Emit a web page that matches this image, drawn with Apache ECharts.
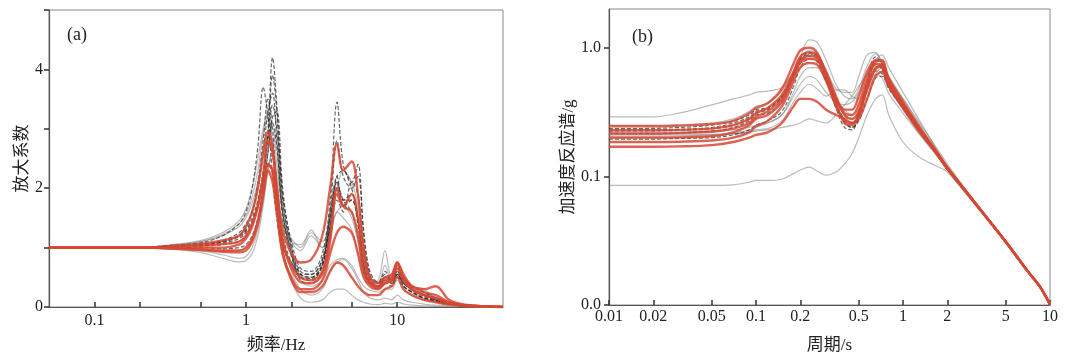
<!DOCTYPE html>
<html><head><meta charset="utf-8">
<script src="https://cdn.jsdelivr.net/npm/echarts@6/dist/echarts.min.js"></script>
<style>html,body{margin:0;padding:0;background:#fff}#c{width:1069px;height:359px}</style>
</head><body><div id="c"></div>
<script>
// ---------- Panel (a): amplification factor vs frequency ----------
const FREQ = [0.05,0.1,0.2,0.3,0.5,0.7,0.9,1.0,1.1,1.2,1.3,1.4,1.5,1.6,1.75,2.0,2.3,2.7,3.2,3.6,4.0,4.4,5.0,5.5,6.0,6.6,7.5,8.3,9.2,10,11,12.5,15,18,22,28,50];
const ampG1 = [1,1,1,1.02,1.05,1.1,1.2,1.3,1.5,1.8,2.3,3.0,4.2,3.4,1.9,1.1,0.65,0.6,0.9,1.8,3.45,2.4,2.0,1.5,0.8,0.45,0.35,0.5,0.4,0.55,0.35,0.25,0.15,0.1,0.05,0.02,0];
const ampG2 = [1,1,1,1.03,1.08,1.2,1.4,1.6,2.0,2.7,3.7,3.2,2.2,1.5,1.0,0.75,0.55,0.55,0.8,1.4,2.1,1.8,1.6,1.2,0.6,0.4,0.35,0.45,0.4,0.5,0.35,0.25,0.15,0.1,0.05,0.02,0];
const ampG3 = [1,1,1,1.04,1.12,1.25,1.45,1.65,2.0,2.5,3.0,3.3,2.6,1.9,1.4,1.1,1.05,1.3,1.0,1.2,1.6,1.5,1.3,0.9,0.5,0.4,0.45,0.95,0.5,0.6,0.4,0.3,0.2,0.12,0.06,0.03,0];
const ampG4 = [1,1,1,1.01,1.03,1.05,1.1,1.2,1.4,1.7,2.2,2.8,3.4,3.0,1.6,0.9,0.5,0.45,0.7,1.4,2.2,1.8,1.9,1.5,0.7,0.4,0.35,0.45,0.4,0.55,0.4,0.3,0.2,0.12,0.05,0.02,0];
const ampG5 = [1,1,1,1.0,1.0,0.98,1.0,1.05,1.2,1.5,2.0,2.6,3.1,2.7,1.5,0.85,0.45,0.4,0.6,1.3,2.0,1.7,1.8,1.4,0.7,0.4,0.3,0.4,0.35,0.5,0.35,0.25,0.15,0.1,0.05,0.02,0];
const ampG6 = [1,1,1,0.98,0.92,0.82,0.76,0.78,0.9,1.2,1.7,2.3,2.6,2.2,1.2,0.6,0.3,0.2,0.3,0.6,0.75,0.8,0.65,0.45,0.25,0.15,0.12,0.15,0.12,0.2,0.12,0.08,0.05,0.03,0.02,0.01,0];
const ampG7 = [1,1,1,0.99,0.95,0.88,0.82,0.85,1.0,1.3,1.8,2.4,2.5,2.0,1.0,0.45,0.15,0.08,0.12,0.25,0.3,0.3,0.2,0.12,0.08,0.05,0.04,0.06,0.05,0.08,0.05,0.03,0.02,0.01,0,0,0];
const ampG8 = [1,1,1,1.03,1.1,1.22,1.4,1.55,1.85,2.3,2.9,3.2,2.8,2.0,1.4,1.15,1.0,1.25,1.1,1.5,2.0,2.3,2.1,1.7,1.0,0.5,0.4,0.5,0.45,0.6,0.5,0.35,0.3,0.15,0.08,0.04,0];
const ampG9 = [1,1,1,1.01,1.04,1.08,1.15,1.25,1.4,1.7,2.1,2.6,3.2,3.3,2.0,1.0,0.55,0.5,0.7,1.3,1.8,1.6,2.1,1.9,1.0,0.5,0.4,0.6,0.45,0.65,0.45,0.3,0.2,0.12,0.06,0.02,0];
const ampG10 = [1,1,1,1.0,0.98,0.95,0.95,1.0,1.15,1.4,1.8,2.3,2.7,2.9,1.8,0.9,0.45,0.35,0.45,0.7,0.8,0.82,0.7,0.5,0.35,0.28,0.25,0.3,0.3,0.45,0.3,0.2,0.12,0.08,0.04,0.02,0];
const ampG11 = [1,1,1,1.02,1.06,1.12,1.25,1.4,1.6,2.0,2.6,3.3,3.6,2.8,1.6,0.9,0.55,0.5,0.75,1.6,2.8,2.2,2.0,2.2,1.2,0.55,0.4,0.5,0.45,0.6,0.45,0.35,0.25,0.15,0.08,0.03,0];
const ampG12 = [1,1,1,1.01,1.04,1.1,1.2,1.35,1.6,2.1,2.8,3.5,3.0,2.0,1.2,0.75,0.5,0.48,0.7,1.5,2.1,1.8,1.8,1.4,0.7,0.42,0.35,0.45,0.4,0.55,0.4,0.28,0.18,0.1,0.05,0.02,0];
const ampG13 = [1,1,1,1.03,1.1,1.2,1.35,1.5,1.75,2.1,2.5,2.9,3.0,2.4,1.6,1.1,0.95,1.2,1.0,1.3,1.6,1.7,1.5,1.1,0.6,0.4,0.4,0.7,0.45,0.55,0.4,0.3,0.22,0.12,0.06,0.03,0];
const ampG14 = [1,1,1,1.02,1.05,1.1,1.18,1.28,1.45,1.75,2.2,2.9,3.9,3.3,1.8,1.0,0.6,0.55,0.8,1.6,2.2,2.3,2.1,2.4,1.3,0.6,0.42,0.55,0.45,0.6,0.45,0.35,0.25,0.15,0.08,0.03,0];
const ampR1 = [1,1,1,1.02,1.06,1.12,1.2,1.35,1.6,2.0,2.6,2.95,2.7,2.0,1.3,0.9,0.75,0.8,1.2,2.0,2.75,2.3,2.45,1.9,1.0,0.5,0.4,0.5,0.55,0.75,0.5,0.35,0.3,0.35,0.12,0.04,0];
const ampR2 = [1,1,1,1.01,1.03,1.06,1.1,1.2,1.4,1.7,2.1,2.4,2.3,1.8,1.1,0.7,0.5,0.45,0.6,1.2,1.9,1.7,1.9,1.5,0.8,0.45,0.35,0.45,0.5,0.75,0.55,0.35,0.25,0.2,0.08,0.03,0];
const ampR3 = [1,1,1,1.0,1.0,1.0,1.05,1.15,1.35,1.7,2.2,2.8,2.6,2.0,1.1,0.65,0.42,0.4,0.55,1.1,2.0,1.7,1.6,1.2,0.6,0.4,0.32,0.4,0.45,0.7,0.5,0.3,0.2,0.15,0.06,0.02,0];
const ampR4 = [1,1,1,0.99,0.97,0.95,0.95,1.0,1.15,1.45,1.9,2.3,2.1,1.6,0.9,0.5,0.3,0.3,0.45,0.9,1.25,1.35,1.25,0.9,0.5,0.35,0.3,0.4,0.45,0.65,0.45,0.3,0.2,0.15,0.06,0.02,0];
const ampR5 = [1,1,1,0.99,0.96,0.93,0.92,0.95,1.1,1.4,1.9,2.4,2.3,1.7,0.9,0.45,0.25,0.25,0.35,0.6,0.75,0.7,0.5,0.35,0.25,0.2,0.2,0.3,0.35,0.5,0.3,0.2,0.12,0.08,0.04,0.02,0];
const ampDark = [ampG1, ampG2, ampG4, ampG5, ampG9, ampG11, ampG12, ampG14];
const ampLight = [ampG3, ampG6, ampG7, ampG8, ampG10, ampG13];
const ampRed = [ampR1, ampR2, ampR3, ampR4, ampR5];
const FREQ_TICKS = [0.1,0.2,0.5,1,2,5,10];
const FREQ_LABELS = [0.1,1,10];

// ---------- Panel (b): acceleration response spectrum vs period ----------
const PERIOD = [0.01,0.02,0.03,0.05,0.07,0.09,0.1,0.12,0.15,0.18,0.2,0.23,0.26,0.3,0.35,0.4,0.45,0.5,0.57,0.65,0.72,0.8,1.0,1.3,1.7,2.0,3.0,5.0,7.0,8.5,10];
const saG1 = [0.29,0.29,0.31,0.36,0.4,0.43,0.45,0.46,0.49,0.65,0.85,1.15,1.1,0.8,0.52,0.42,0.4,0.48,0.72,0.9,0.78,0.58,0.4,0.26,0.165,0.125,0.066,0.031,0.0185,0.014,0.0101];
const saG2 = [0.235,0.236,0.24,0.25,0.27,0.3,0.33,0.34,0.42,0.62,0.8,0.88,0.86,0.62,0.4,0.3,0.28,0.32,0.52,0.74,0.68,0.5,0.34,0.225,0.152,0.117,0.065,0.031,0.0185,0.014,0.0101];
const saG3 = [0.215,0.215,0.218,0.225,0.24,0.27,0.3,0.31,0.38,0.58,0.76,0.86,0.82,0.56,0.36,0.26,0.24,0.28,0.46,0.66,0.63,0.5,0.35,0.23,0.152,0.118,0.065,0.031,0.0185,0.014,0.0101];
const saG4 = [0.195,0.195,0.197,0.2,0.21,0.23,0.25,0.27,0.32,0.5,0.7,0.82,0.78,0.55,0.36,0.27,0.24,0.27,0.4,0.58,0.6,0.48,0.34,0.22,0.15,0.115,0.064,0.031,0.0185,0.014,0.0101];
const saG5 = [0.205,0.205,0.206,0.21,0.215,0.22,0.23,0.235,0.27,0.38,0.45,0.52,0.48,0.42,0.47,0.47,0.42,0.4,0.48,0.62,0.58,0.44,0.31,0.21,0.145,0.113,0.064,0.031,0.0185,0.014,0.0101];
const saG6 = [0.25,0.25,0.252,0.26,0.28,0.32,0.35,0.37,0.46,0.66,0.84,0.95,0.9,0.66,0.48,0.45,0.45,0.6,0.88,0.92,0.72,0.5,0.33,0.215,0.145,0.112,0.064,0.031,0.0185,0.014,0.0101];
const saG7 = [0.085,0.085,0.085,0.085,0.086,0.09,0.093,0.093,0.095,0.105,0.112,0.118,0.11,0.102,0.108,0.125,0.15,0.2,0.3,0.4,0.43,0.3,0.185,0.14,0.12,0.108,0.063,0.031,0.0185,0.014,0.0101];
const saG8 = [0.22,0.22,0.221,0.225,0.23,0.24,0.25,0.26,0.3,0.42,0.52,0.6,0.56,0.45,0.38,0.36,0.38,0.45,0.62,0.8,0.88,0.7,0.45,0.27,0.16,0.12,0.066,0.031,0.0185,0.014,0.0101];
const saG9 = [0.225,0.226,0.228,0.235,0.25,0.28,0.31,0.33,0.41,0.62,0.8,0.9,0.86,0.58,0.34,0.24,0.23,0.3,0.55,0.8,0.7,0.5,0.34,0.225,0.15,0.116,0.065,0.031,0.0185,0.014,0.0101];
const saG10 = [0.21,0.21,0.21,0.212,0.215,0.22,0.225,0.23,0.24,0.25,0.26,0.28,0.27,0.26,0.3,0.36,0.42,0.5,0.62,0.72,0.7,0.52,0.35,0.23,0.15,0.115,0.064,0.031,0.0185,0.014,0.0101];
const saG11 = [0.23,0.23,0.232,0.24,0.26,0.29,0.32,0.34,0.42,0.64,0.83,0.92,0.88,0.6,0.37,0.28,0.26,0.3,0.55,0.85,0.75,0.52,0.35,0.23,0.152,0.117,0.065,0.031,0.0185,0.014,0.0101];
const saG12 = [0.2,0.2,0.2,0.205,0.215,0.23,0.24,0.26,0.3,0.45,0.6,0.7,0.7,0.55,0.4,0.33,0.3,0.33,0.45,0.62,0.7,0.6,0.4,0.25,0.155,0.118,0.065,0.031,0.0185,0.014,0.0101];
const saR1 = [0.245,0.245,0.248,0.255,0.27,0.31,0.34,0.37,0.48,0.75,0.95,1.0,0.92,0.62,0.4,0.33,0.33,0.42,0.65,0.8,0.78,0.58,0.38,0.24,0.155,0.118,0.065,0.031,0.0185,0.014,0.0101];
const saR2 = [0.228,0.228,0.23,0.235,0.25,0.28,0.31,0.34,0.43,0.65,0.85,0.92,0.88,0.65,0.42,0.3,0.28,0.32,0.52,0.75,0.72,0.52,0.35,0.23,0.15,0.115,0.065,0.031,0.0185,0.014,0.0101];
const saR3 = [0.17,0.17,0.171,0.175,0.185,0.2,0.21,0.22,0.26,0.35,0.4,0.4,0.38,0.33,0.3,0.28,0.26,0.28,0.4,0.6,0.65,0.5,0.34,0.22,0.15,0.115,0.064,0.031,0.0185,0.014,0.0101];
const saR4 = [0.2,0.2,0.201,0.205,0.22,0.25,0.28,0.3,0.38,0.6,0.76,0.82,0.8,0.6,0.37,0.26,0.25,0.3,0.5,0.7,0.72,0.55,0.36,0.23,0.15,0.115,0.065,0.031,0.0185,0.014,0.0101];
const saR5 = [0.215,0.215,0.217,0.222,0.235,0.26,0.29,0.32,0.4,0.62,0.8,0.86,0.84,0.62,0.4,0.31,0.3,0.36,0.58,0.78,0.8,0.56,0.37,0.235,0.152,0.117,0.065,0.031,0.0185,0.014,0.0101];
const saR6 = [0.185,0.185,0.186,0.19,0.2,0.22,0.245,0.27,0.35,0.55,0.7,0.76,0.74,0.55,0.35,0.27,0.26,0.3,0.48,0.68,0.72,0.55,0.36,0.23,0.15,0.115,0.065,0.031,0.0185,0.014,0.0101];
const saDark = [saG2, saG3, saG4, saG9, saG11];
const saLight = [saG1, saG5, saG6, saG7, saG8, saG10, saG12];
const saRed = [saR1, saR2, saR3, saR4, saR5, saR6];
const PERIOD_TICKS = [0.01,0.02,0.05,0.1,0.2,0.5,1,2,5,10];
const SA_TICKS = [0.01,0.1,1];

// ---------- build ----------
const FONT = '"Liberation Serif", "Noto Sans CJK SC", serif';
const TXT = '#222';
function pairs(xs, ys){ return xs.map((x,i)=>[x, ys[i]]); }
function mk(xs, ys, idx, style){
  return Object.assign({type:'line', xAxisIndex:idx, yAxisIndex:idx, data:pairs(xs,ys),
    showSymbol:false, smooth:0.35, silent:true, animation:false}, style);
}
const sDark = {lineStyle:{color:'rgba(40,40,40,0.7)', width:1.2, type:[4,2]}};
const sLight = {lineStyle:{color:'rgba(120,120,120,0.5)', width:1.2}};
const sRed = {lineStyle:{color:'rgba(214,72,50,0.85)', width:2.4}};
const series = [];
ampLight.forEach(a=>series.push(mk(FREQ,a,0,sLight)));
ampDark.forEach(a=>series.push(mk(FREQ,a,0,sDark)));
ampRed.forEach(a=>series.push(mk(FREQ,a,0,sRed)));
saLight.forEach(a=>series.push(mk(PERIOD,a,1,sLight)));
saDark.forEach(a=>series.push(mk(PERIOD,a,1,sDark)));
saRed.forEach(a=>series.push(mk(PERIOD,a,1,sRed)));

const axLine = {show:true, lineStyle:{color:'#555', width:1.2}};
const labelStyle = {color:TXT, fontFamily:FONT, fontSize:16};
const nameStyle = {color:TXT, fontFamily:FONT, fontSize:17};

const option = {
  backgroundColor:'#fff',
  animation:false,
  title:[
    {text:'(a)', left:62, top:21, textStyle:{color:TXT, fontFamily:FONT, fontSize:18, fontWeight:'normal'}},
    {text:'(b)', left:627, top:23, textStyle:{color:TXT, fontFamily:FONT, fontSize:18, fontWeight:'normal'}}
  ],
  grid:[
    {left:49, top:10, width:454, height:299, show:true, borderColor:'#888', borderWidth:1},
    {left:609, top:9, width:441, height:298, show:true, borderColor:'#888', borderWidth:1}
  ],
  xAxis:[
    {type:'log', logBase:10, gridIndex:0, min:0.05, max:50,
     name:'频率/Hz', nameLocation:'middle', nameGap:30, nameTextStyle:nameStyle,
     axisLine:axLine, splitLine:{show:false},
     axisTick:{show:true, inside:true, length:5, lineStyle:{color:'#333', width:1.5}, customValues:FREQ_TICKS},
     axisLabel:Object.assign({margin:6, customValues:FREQ_LABELS, formatter:v=>String(v)}, labelStyle)},
    {type:'log', logBase:10, gridIndex:1, min:0.01, max:10,
     name:'周期/s', nameLocation:'middle', nameGap:32, nameTextStyle:nameStyle,
     axisLine:axLine, splitLine:{show:false},
     axisTick:{show:true, inside:true, length:5, lineStyle:{color:'#333', width:1.5}, customValues:PERIOD_TICKS},
     axisLabel:Object.assign({margin:4, customValues:PERIOD_TICKS, formatter:v=>String(v)}, labelStyle)}
  ],
  yAxis:[
    {type:'value', gridIndex:0, min:0, max:5, interval:1,
     name:'放大系数', nameLocation:'middle', nameGap:17, nameTextStyle:nameStyle,
     axisLine:axLine, splitLine:{show:false},
     axisTick:{show:true, inside:false, length:5, lineStyle:{color:'#333', width:1.5}},
     axisLabel:Object.assign({margin:6, formatter:v=>(v%2===0 && v<5)?String(v):''}, labelStyle)},
    {type:'log', logBase:10, gridIndex:1, min:0.01, max:2,
     name:'加速度反应谱/g', nameLocation:'middle', nameGap:31, nameTextStyle:nameStyle,
     axisLine:axLine, splitLine:{show:false},
     axisTick:{show:true, inside:false, length:5, lineStyle:{color:'#333', width:1.5}, customValues:SA_TICKS},
     axisLabel:Object.assign({margin:8, customValues:SA_TICKS, formatter:v=>Number(v).toFixed(1)}, labelStyle)}
  ],
  series:series
};
const chart = echarts.init(document.getElementById('c'), null, {renderer:'canvas'});
chart.setOption(option);
</script>
</body></html>
